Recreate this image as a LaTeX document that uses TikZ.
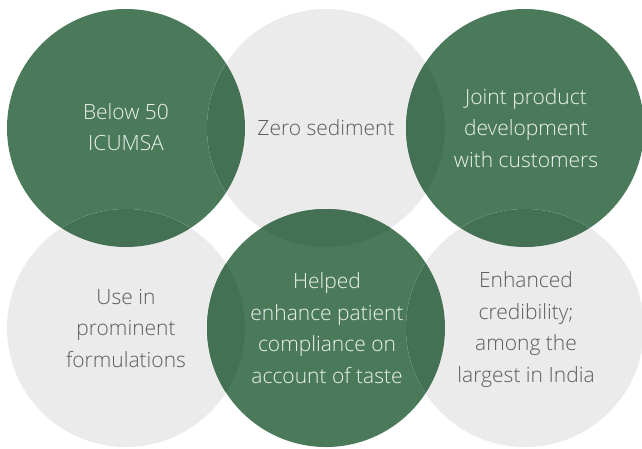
\documentclass[tikz,border=0pt]{standalone}
\usepackage{fontspec}
\setmainfont{Open Sans}[UprightFont=* Light]
\definecolor{cgreen}{HTML}{4A7A5A}
\definecolor{cgray}{HTML}{EBEBEB}
\definecolor{cover}{HTML}{447053}
\definecolor{tgray}{HTML}{5C5C5C}
\definecolor{tlight}{HTML}{EEF3EF}
\begin{document}
\begin{tikzpicture}[x=1pt,y=-1pt,
  disc/.style={circle,minimum size=238pt,inner sep=0pt,draw=none},
  gdisc/.style={disc,fill=cgreen},
  ydisc/.style={disc,fill=cgray},
  lbl/.style={align=center,font=\fontsize{21}{31.5}\selectfont,inner sep=0pt},
  glbl/.style={lbl,text=tlight},
  ylbl/.style={lbl,text=tgray}]
\useasboundingbox (0,0) rectangle (642,448);
\node[gdisc] (c1) at (126,128) {};
\node[ydisc] (c2) at (326,128) {};
\node[gdisc] (c3) at (525,128) {};
\node[ydisc] (c4) at (126,328) {};
\node[gdisc] (c5) at (326,328) {};
\node[ydisc] (c6) at (525,328) {};
\foreach \a/\b in {c1/c2,c2/c3,c4/c5,c5/c6,c1/c4,c2/c5,c3/c6}{
  \begin{scope}
    \clip (\a.center) circle[radius=119pt];
    \fill[cover] (\b.center) circle[radius=119pt];
  \end{scope}
}
\node[glbl] (t1) at (126,127) {Below 50\\ICUMSA};
\node[ylbl] (t2) at (326,128) {Zero sediment};
\node[glbl] (t3) at (526,128) {Joint product\\development\\with customers};
\node[ylbl] (t4) at (126,328) {Use in\\prominent\\formulations};
\node[glbl] (t5) at (327,328) {Helped\\enhance patient\\compliance on\\account of taste};
\node[ylbl] (t6) at (526,329.5) {Enhanced\\credibility;\\among the\\largest in India};
\end{tikzpicture}
\end{document}
